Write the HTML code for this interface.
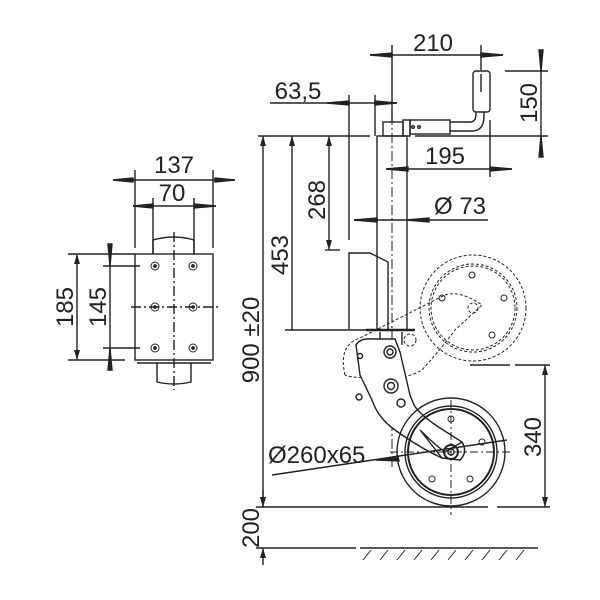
<!DOCTYPE html>
<html><head><meta charset="utf-8"><style>
html,body{margin:0;padding:0;background:#fff}
svg{display:block}
text{font-family:"Liberation Sans",sans-serif;font-size:24px;fill:#222}
</style></head><body>
<svg width="600" height="600" viewBox="0 0 600 600" xmlns="http://www.w3.org/2000/svg">
<defs>
<marker id="a" viewBox="0 0 10 6" refX="10" refY="3" markerWidth="10" markerHeight="6" markerUnits="userSpaceOnUse" orient="auto-start-reverse"><path d="M0,0 L10,3 L0,6z" fill="#222"/></marker>
</defs>
<g stroke="#222" stroke-width="1.4" fill="none">
<!-- LEFT VIEW -->
<line x1="113" y1="180" x2="235" y2="180"/>
<path d="M113,180 l20,-2 v4z M235,180 l-20,-2 v4z" fill="#222"/>
<line x1="135" y1="170" x2="135" y2="248"/>
<line x1="213" y1="170" x2="213" y2="248"/>
<line x1="133" y1="206" x2="216" y2="206"/>
<path d="M133,206 l20,-2 v4z M216,206 l-22,-2 v4z" fill="#222"/>
<line x1="153" y1="198" x2="153" y2="254"/>
<line x1="194" y1="198" x2="194" y2="254"/>
<path d="M153,254 V240 Q174,234 194,240 V254"/>
<rect x="135" y="254" width="78" height="106"/>
<line x1="137" y1="363" x2="211" y2="363"/>
<path d="M157,363 V382 Q174,386 191,382 V363"/>
<line x1="174" y1="232" x2="174" y2="390" stroke-dasharray="10,3,2,3"/>
<line x1="131" y1="307" x2="218" y2="307" stroke-dasharray="10,3,2,3"/>
<line x1="103" y1="266" x2="140" y2="266"/>
<line x1="103" y1="348" x2="140" y2="348"/>
<line x1="68" y1="254" x2="135" y2="254"/>
<line x1="68" y1="360" x2="125" y2="360"/>
<line x1="77" y1="254" x2="77" y2="360" marker-start="url(#a)" marker-end="url(#a)"/>
<line x1="110" y1="244" x2="110" y2="370"/>
<path d="M110,266 l-2,-22 h4z M110,348 l-2,22 h4z" fill="#222"/>
<g stroke-width="1">
<circle cx="155" cy="266" r="4"/><circle cx="193" cy="266" r="4"/>
<circle cx="155" cy="307" r="4"/><circle cx="193" cy="307" r="4"/>
<circle cx="155" cy="348" r="4"/><circle cx="193" cy="348" r="4"/>
</g>
<g fill="#222"><circle cx="155" cy="266" r="1.2"/><circle cx="193" cy="266" r="1.2"/><circle cx="155" cy="307" r="1.2"/><circle cx="193" cy="307" r="1.2"/><circle cx="155" cy="348" r="1.2"/><circle cx="193" cy="348" r="1.2"/></g>

<!-- RIGHT VIEW: dims -->
<line x1="370" y1="55" x2="503" y2="55"/>
<path d="M370,55 l22,-2 v4z M503,55 l-22,-2 v4z" fill="#222"/>
<line x1="392" y1="45" x2="392" y2="122"/>
<line x1="481" y1="45" x2="481" y2="70"/>
<line x1="270" y1="103" x2="397" y2="103"/>
<path d="M327,103 l22,-2 v4z M397,103 l-22,-2 v4z" fill="#222"/>
<line x1="349" y1="95" x2="349" y2="240"/>
<line x1="375" y1="95" x2="375" y2="136"/>
<line x1="258" y1="136" x2="370" y2="136"/>
<line x1="263" y1="136" x2="263" y2="507" marker-start="url(#a)" marker-end="url(#a)"/>
<line x1="292" y1="136" x2="292" y2="330" marker-start="url(#a)"/>
<line x1="329" y1="136" x2="329" y2="250" marker-start="url(#a)" marker-end="url(#a)"/>
<line x1="325" y1="250" x2="340" y2="250"/>
<line x1="285" y1="330" x2="348" y2="330"/>
<line x1="505" y1="71" x2="548" y2="71"/>
<line x1="415" y1="136" x2="548" y2="136"/>
<line x1="541" y1="50" x2="541" y2="157"/>
<path d="M541,71 l-2,-21 h4z M541,136 l-2,21 h4z" fill="#222"/>
<line x1="386" y1="169" x2="512" y2="169"/>
<path d="M386,169 l22,-2 v4z M512,169 l-22,-2 v4z" fill="#222"/>
<line x1="490" y1="120" x2="490" y2="177"/>
<line x1="354" y1="220" x2="488" y2="220"/>
<path d="M354,220 l23,-2 v4z M407,220 l22,-2 v4z" fill="#222"/>
<!-- 340 -->
<line x1="515" y1="365" x2="550" y2="365"/>
<line x1="545" y1="365" x2="545" y2="507" marker-start="url(#a)" marker-end="url(#a)"/>
<!-- base & ground -->
<line x1="256" y1="507" x2="488" y2="507"/>
<line x1="497" y1="507" x2="550" y2="507"/>
<line x1="256" y1="548" x2="356" y2="548"/>
<line x1="360" y1="548" x2="538" y2="548"/>
<line x1="263" y1="490" x2="263" y2="507" marker-end="url(#a)"/>
<line x1="263" y1="565" x2="263" y2="548" marker-end="url(#a)"/>
<g stroke-width="1">
<path d="M363,560 l8,-10 M380,560 l8,-10 M397,560 l8,-10 M414,560 l8,-10 M431,560 l8,-10 M448,560 l8,-10 M465,560 l8,-10 M482,560 l8,-10 M499,560 l8,-10 M516,560 l8,-10"/>
</g>
<!-- tube -->
<rect x="377" y="136" width="30" height="194"/>
<line x1="392" y1="115" x2="392" y2="470" stroke-dasharray="10,3,2,3" stroke-width="1"/>
<!-- handle -->
<rect x="383" y="122" width="20" height="14"/>
<rect x="403" y="120" width="7" height="16"/>
<rect x="410" y="120" width="40" height="14"/>
<circle cx="413" cy="127" r="1.3"/><circle cx="419" cy="127" r="1.3"/>
<path d="M450,122 H470 Q476,122 476,114 V112 M450,131 H472 Q484,131 484,116 V112"/>
<rect x="473" y="71" width="17" height="41" rx="3"/>
<line x1="481" y1="74" x2="481" y2="92"/>
<!-- clamp plate -->
<path d="M349,253 L370,253 L388,262 L388,330 L349,330 Z"/>
<line x1="366" y1="330" x2="415" y2="330" stroke-width="2.5"/>
<line x1="380" y1="332" x2="380" y2="345"/><line x1="402" y1="332" x2="402" y2="345"/>
<!-- dashed swung position -->
<g stroke-dasharray="3,2" stroke-width="1">
<circle cx="473" cy="308" r="53"/>
<circle cx="473" cy="308" r="44"/>
<circle cx="473" cy="308" r="42"/>
<circle cx="473" cy="308" r="5"/>
<path d="M345,375 Q338,345 360,338 L445,295 Q460,290 482,305 L455,330 Q440,350 422,370 Q405,380 380,378 Q350,378 345,375Z"/>
<circle cx="410" cy="340" r="6"/><circle cx="382" cy="357" r="7"/>
</g>
<g stroke-width="1"><circle cx="472" cy="275" r="3"/><circle cx="442" cy="298" r="3"/><circle cx="504" cy="298" r="3"/><circle cx="492" cy="335" r="3"/></g>
<line x1="470" y1="365" x2="510" y2="365"/>
<!-- bracket -->
<path d="M356,345 Q360,338 372,339 L395,339 L400,352 L410,395 L414,405 Q420,415 440,428 L462,442 Q468,452 460,460 L442,458 Q420,448 395,430 Q378,418 372,400 L360,375 Z" fill="#fff"/>
<circle cx="390" cy="352" r="6"/><circle cx="390" cy="352" r="3"/>
<circle cx="391" cy="386" r="7"/><circle cx="391" cy="386" r="3.5"/>
<circle cx="401" cy="403" r="4"/><circle cx="360" cy="356" r="2.5"/>
<circle cx="359" cy="397" r="3"/>
<!-- main wheel -->
<circle cx="451" cy="452" r="54"/>
<circle cx="451" cy="452" r="46"/>
<circle cx="451" cy="452" r="43" stroke-width="2"/>
<path d="M420,430 Q435,445 445,452 L462,442 Q468,452 460,460 L442,458 Z" fill="#fff"/>
<circle cx="451" cy="452" r="7" stroke-width="2"/><circle cx="451" cy="452" r="3"/>
<g stroke-width="1"><circle cx="451" cy="419" r="3"/><circle cx="482" cy="442" r="3"/><circle cx="432" cy="479" r="3"/><circle cx="470" cy="479" r="3"/></g>
<line x1="451" y1="400" x2="451" y2="515" stroke-dasharray="8,3,2,3" stroke-width="1"/>
<line x1="390" y1="452" x2="510" y2="452" stroke-dasharray="8,3,2,3" stroke-width="1"/>
<line x1="272" y1="475" x2="507" y2="440"/>
<path d="M376,460 l22,-4 l1,5z" fill="#222"/>
</g>
<text x="433" y="51" text-anchor="middle">210</text>
<text x="298" y="99" text-anchor="middle">63,5</text>
<text x="445" y="164" text-anchor="middle">195</text>
<text x="460" y="214" text-anchor="middle">Ø 73</text>
<text x="268" y="463">Ø260x65</text>
<text x="174" y="173" text-anchor="middle">137</text>
<text x="172" y="201" text-anchor="middle">70</text>
<text transform="translate(73,307) rotate(-90)" text-anchor="middle">185</text>
<text transform="translate(106,307) rotate(-90)" text-anchor="middle">145</text>
<text transform="translate(325,200) rotate(-90)" text-anchor="middle">268</text>
<text transform="translate(288,255) rotate(-90)" text-anchor="middle">453</text>
<text transform="translate(259,340) rotate(-90)" text-anchor="middle">900 ±20</text>
<text transform="translate(259,528) rotate(-90)" text-anchor="middle">200</text>
<text transform="translate(537,103) rotate(-90)" text-anchor="middle">150</text>
<text transform="translate(541,437) rotate(-90)" text-anchor="middle">340</text>
</svg>
</body></html>
